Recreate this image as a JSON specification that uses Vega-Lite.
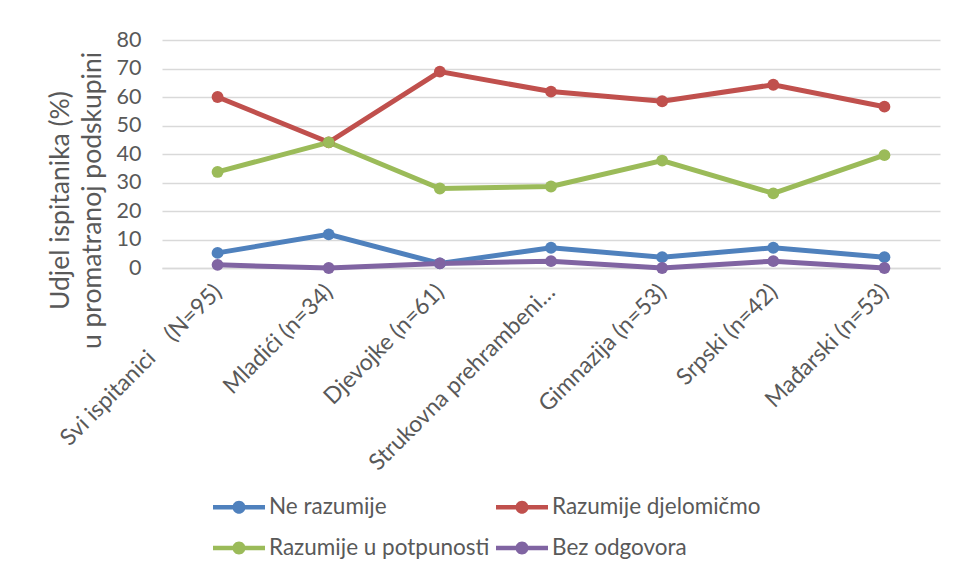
{
  "$schema": "https://vega.github.io/schema/vega-lite/v6.json",
  "width": 778,
  "height": 228,
  "autosize": {"type": "none"},
  "padding": {"left": 162, "top": 40, "right": 14, "bottom": 310},
  "background": "white",
  "config": {
    "font": "Lato",
    "view": {"stroke": null}
  },
  "data": {
    "values": [
      {"group": "Svi ispitanici\u00a0\u00a0\u00a0\u00a0(N=95)", "series": "Ne razumije", "value": 5.3},
      {"group": "Mladići (n=34)", "series": "Ne razumije", "value": 11.8},
      {"group": "Djevojke (n=61)", "series": "Ne razumije", "value": 1.6},
      {"group": "Strukovna prehrambeni…", "series": "Ne razumije", "value": 7.1},
      {"group": "Gimnazija (n=53)", "series": "Ne razumije", "value": 3.8},
      {"group": "Srpski (n=42)", "series": "Ne razumije", "value": 7.1},
      {"group": "Mađarski (n=53)", "series": "Ne razumije", "value": 3.8},
      {"group": "Svi ispitanici\u00a0\u00a0\u00a0\u00a0(N=95)", "series": "Razumije djelomičmo", "value": 60.0},
      {"group": "Mladići (n=34)", "series": "Razumije djelomičmo", "value": 44.1},
      {"group": "Djevojke (n=61)", "series": "Razumije djelomičmo", "value": 68.9},
      {"group": "Strukovna prehrambeni…", "series": "Razumije djelomičmo", "value": 61.9},
      {"group": "Gimnazija (n=53)", "series": "Razumije djelomičmo", "value": 58.5},
      {"group": "Srpski (n=42)", "series": "Razumije djelomičmo", "value": 64.3},
      {"group": "Mađarski (n=53)", "series": "Razumije djelomičmo", "value": 56.6},
      {"group": "Svi ispitanici\u00a0\u00a0\u00a0\u00a0(N=95)", "series": "Razumije u potpunosti", "value": 33.7},
      {"group": "Mladići (n=34)", "series": "Razumije u potpunosti", "value": 44.1},
      {"group": "Djevojke (n=61)", "series": "Razumije u potpunosti", "value": 27.9},
      {"group": "Strukovna prehrambeni…", "series": "Razumije u potpunosti", "value": 28.6},
      {"group": "Gimnazija (n=53)", "series": "Razumije u potpunosti", "value": 37.7},
      {"group": "Srpski (n=42)", "series": "Razumije u potpunosti", "value": 26.2},
      {"group": "Mađarski (n=53)", "series": "Razumije u potpunosti", "value": 39.6},
      {"group": "Svi ispitanici\u00a0\u00a0\u00a0\u00a0(N=95)", "series": "Bez odgovora", "value": 1.1},
      {"group": "Mladići (n=34)", "series": "Bez odgovora", "value": 0},
      {"group": "Djevojke (n=61)", "series": "Bez odgovora", "value": 1.6},
      {"group": "Strukovna prehrambeni…", "series": "Bez odgovora", "value": 2.4},
      {"group": "Gimnazija (n=53)", "series": "Bez odgovora", "value": 0},
      {"group": "Srpski (n=42)", "series": "Bez odgovora", "value": 2.4},
      {"group": "Mađarski (n=53)", "series": "Bez odgovora", "value": 0}
    ]
  },
  "mark": {"type": "line", "strokeWidth": 5, "point": {"size": 140, "filled": true}},
  "encoding": {
    "x": {
      "field": "group",
      "type": "nominal",
      "sort": null,
      "axis": {
        "title": null,
        "domain": true,
        "domainColor": "#d9d9d9",
        "domainWidth": 1.5,
        "ticks": false,
        "grid": false,
        "labelAngle": -45,
        "labelAlign": "right",
        "labelBaseline": "middle",
        "labelFontSize": 23,
        "labelColor": "#595959",
        "labelPadding": 20,
        "labelLimit": 400
      }
    },
    "y": {
      "field": "value",
      "type": "quantitative",
      "scale": {"domain": [0, 80], "nice": false},
      "axis": {
        "values": [0, 10, 20, 30, 40, 50, 60, 70, 80],
        "domain": false,
        "ticks": false,
        "grid": true,
        "gridColor": "#d9d9d9",
        "gridWidth": 1.5,
        "labelFontSize": 21.5,
        "labelColor": "#595959",
        "labelPadding": 21,
        "title": ["Udjel ispitanika (%)", "u promatranoj podskupini"],
        "titleFontSize": 26.5,
        "titleFontWeight": "normal",
        "titleColor": "#595959",
        "titleAngle": -90,
        "titleAlign": "center",
        "titleBaseline": "middle",
        "titleLineHeight": 32,
        "titleX": -102,
        "titleY": 160
      }
    },
    "color": {
      "field": "series",
      "type": "nominal",
      "sort": null,
      "scale": {
        "domain": ["Ne razumije", "Razumije djelomičmo", "Razumije u potpunosti", "Bez odgovora"],
        "range": ["#4f81bd", "#c0504d", "#9bbb59", "#8064a2"]
      },
      "legend": {
        "title": null,
        "orient": "none",
        "direction": "horizontal",
        "legendX": 51,
        "legendY": 441,
        "columns": 2,
        "symbolType": "M-1,-0.087L1,-0.087L1,0.087L-1,0.087Z M0.25,0A0.25,0.25 0 1 1 -0.25,0A0.25,0.25 0 1 1 0.25,0Z",
        "symbolSize": 2704,
        "symbolStrokeWidth": 0,
        "labelFontSize": 22.5,
        "labelColor": "#595959",
        "labelOffset": 4,
        "rowPadding": 3,
        "columnPadding": 6,
        "labelLimit": 400,
        "encode": {
          "symbols": {
            "update": {
              "fill": {"scale": "color", "field": "value"},
              "stroke": {"value": "transparent"}
            }
          }
        }
      }
    }
  }
}
